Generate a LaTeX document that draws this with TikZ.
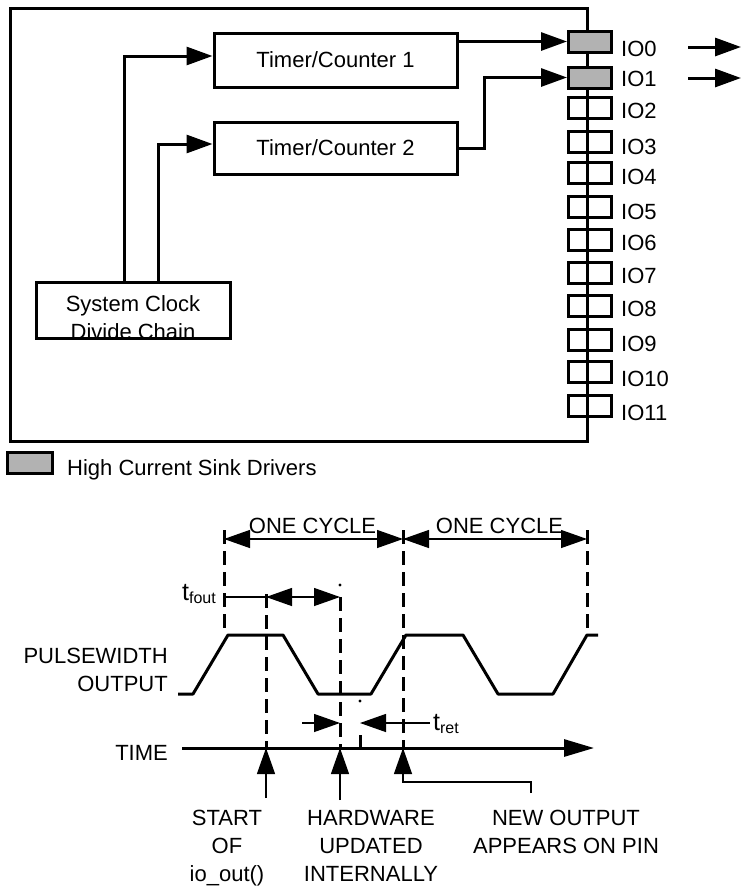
\documentclass[tikz,border=0pt]{standalone}
\usepackage{fontspec}
\setmainfont{Liberation Sans}
\usetikzlibrary{arrows.meta,positioning}
\begin{document}
\begin{tikzpicture}[x=1pt,y=-1pt,>={Triangle[length=26pt,width=18pt]},
  bx/.style={draw,line width=3pt,inner sep=0pt,font=\fontsize{22}{28}\selectfont},
  io/.style={draw,line width=3pt,minimum width=43pt,minimum height=21pt,inner sep=0pt},
  lb/.style={inner sep=0pt,font=\fontsize{22}{28}\selectfont},
  tk/.style={line width=3pt},
  tn/.style={line width=1.3pt},
  ds/.style={line width=3pt,dash pattern=on 14pt off 7pt}]
  \useasboundingbox (0,0) rectangle (743,886);
  \draw[tk] (10,8) rectangle (587,441);
  \node[bx,minimum width=243pt,minimum height=54pt](t1) at (335.5,60){Timer/Counter 1};
  \node[bx,minimum width=243pt,minimum height=52pt](t2) at (335.5,148){Timer/Counter 2};
  \node[bx,minimum width=194pt,minimum height=56pt,label={[lb,align=center,yshift=-8pt]center:System Clock\\Divide Chain}](ck) at (133,310){};
  \node[io,fill=black!30](io0) at (590,41.5){};
  \node[io,fill=black!30](io1) at (590,77.5){};
  \node[io](io2) at (590,108){};
  \node[io](io3) at (590,142){};
  \node[io](io4) at (590,172.5){};
  \node[io](io5) at (590,207){};
  \node[io](io6) at (590,239.5){};
  \node[io](io7) at (590,273){};
  \node[io](io8) at (590,305.5){};
  \node[io](io9) at (590,339.5){};
  \node[io](io10) at (590,371.5){};
  \node[io](io11) at (590,406){};
  \node[lb,anchor=west](l0) at (621,48.5){IO0};
  \node[lb,anchor=west](l1) at (621,79){IO1};
  \node[lb,anchor=west](l2) at (621,111){IO2};
  \node[lb,anchor=west](l3) at (621,146.5){IO3};
  \node[lb,anchor=west](l4) at (621,176.5){IO4};
  \node[lb,anchor=west](l5) at (621,211.5){IO5};
  \node[lb,anchor=west](l6) at (621,242.5){IO6};
  \node[lb,anchor=west](l7) at (621,276){IO7};
  \node[lb,anchor=west](l8) at (621,309){IO8};
  \node[lb,anchor=west](l9) at (621,344){IO9};
  \node[lb,anchor=west](l10) at (621,379){IO10};
  \node[lb,anchor=west](l11) at (621,413){IO11};
  \draw[tk,->] ([xshift=-9pt]ck.north) |- ([yshift=4pt]t1.west);
  \draw[tk,->] ([xshift=25pt]ck.north) |- ([yshift=4pt]t2.west);
  \draw[tk,->] (t1.east |- io0.west) -- (io0.west);
  \draw[tk,->] (t2.east) -- ++(26,0) |- (io1.west);
  \coordinate(o0) at (688,47);
  \coordinate(e0) at (741,47);
  \coordinate(o1) at (688,78);
  \coordinate(e1) at (741,78);
  \draw[tk,->] (o0) -- (e0);
  \draw[tk,->] (o1) -- (e1);
  \node[io,minimum width=45pt,fill=black!30](lg) at (29.5,462.5){};
  \node[lb,anchor=west](lt) at (67,470){High Current Sink Drivers};
  \node[lb](c1) at (312.5,525.5){ONE CYCLE};
  \node[lb](c2) at (499.5,525.5){ONE CYCLE};
  \node[lb,align=right,anchor=north east](pw) at (168,648){PULSEWIDTH\\OUTPUT};
  \node[lb,anchor=east](tm) at (168,753){TIME};
  \node[lb,anchor=base west](tf) at (182,600){{\fontsize{25}{25}\selectfont t}\raisebox{-3pt}{\fontsize{16}{16}\selectfont fout}};
  \node[lb,anchor=base west](tr) at (433,730){{\fontsize{25}{25}\selectfont t}\raisebox{-3pt}{\fontsize{16}{16}\selectfont ret}};
  \node[lb,align=center,anchor=north](st) at (227,810){START\\OF\\io\_out()};
  \node[lb,align=center,anchor=north](hw) at (371,810){HARDWARE\\UPDATED\\INTERNALLY};
  \node[lb,align=center,anchor=north](np) at (566,810){NEW OUTPUT\\APPEARS ON PIN};
  \draw[tk,line join=round] (178,694) -- (193,694) -- (228,635) -- (283,635) -- (318,694) -- (371,694) -- (406,635) -- (463,635) -- (498,694) -- (553,694) -- (587,635) -- (598,635);
  \draw[ds] (224,530) -- (224,635);
  \draw[ds] (266,594) -- (266,748);
  \draw[ds] (340,597) -- (340,748);
  \draw[ds] (403,530) -- (403,748);
  \draw[ds] (587,530) -- (587,635);
  \draw[tn,<->] (224,539) -- (403,539);
  \draw[tn,<->] (403,539) -- (587,539);
  \draw[tn] (224,597) -- (266,597);
  \draw[tn,<->] (266,597) -- (340,597);
  \draw[tn,->] (302,723) -- (340,723);
  \draw[tn,->] (430,723) -- (360,723);
  \draw[tk] (360,735) -- (360,748);
  \fill (340,585) circle (1.6pt);
  \fill (360,701) circle (1.6pt);
  \draw[tk,-{Triangle[length=30pt,width=17pt]}] (182,748) -- (594,748);
  \draw[tn,->] (266,798) -- (266,748);
  \draw[tn,->] (340,800) -- (340,748);
  \draw[tn,->] (531,793) -- (531,782) -- (403,782) -- (403,748);
\end{tikzpicture}
\end{document}
